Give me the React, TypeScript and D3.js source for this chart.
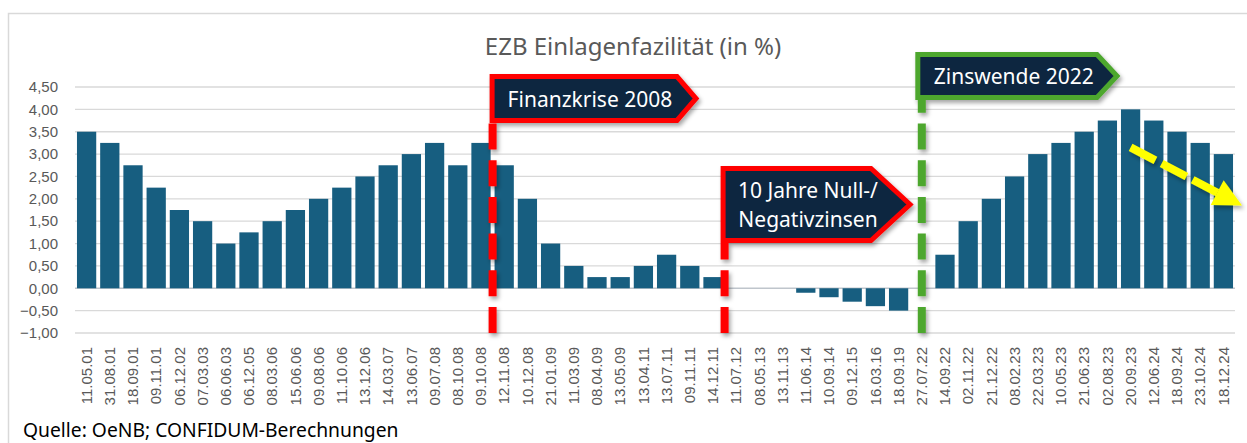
import React from 'react';
import * as d3 from 'd3';

// Leitzins-Termine (Einlagenfazilität der EZB)
const dates = [
  '11.05.01', '31.08.01', '18.09.01', '09.11.01', '06.12.02', '07.03.03', '06.06.03', '06.12.05',
  '08.03.06', '15.06.06', '09.08.06', '11.10.06', '13.12.06', '14.03.07', '13.06.07', '09.07.08',
  '08.10.08', '09.10.08', '12.11.08', '10.12.08', '21.01.09', '11.03.09', '08.04.09', '13.05.09',
  '13.04.11', '13.07.11', '09.11.11', '14.12.11', '11.07.12', '08.05.13', '13.11.13', '11.06.14',
  '10.09.14', '09.12.15', '16.03.16', '18.09.19', '27.07.22', '14.09.22', '02.11.22', '21.12.22',
  '08.02.23', '22.03.23', '10.05.23', '21.06.23', '02.08.23', '20.09.23', '12.06.24', '18.09.24',
  '23.10.24', '18.12.24'
];

const rates = [
  3.5, 3.25, 2.75, 2.25, 1.75, 1.5, 1.0, 1.25,
  1.5, 1.75, 2.0, 2.25, 2.5, 2.75, 3.0, 3.25,
  2.75, 3.25, 2.75, 2.0, 1.0, 0.5, 0.25, 0.25,
  0.5, 0.75, 0.5, 0.25, 0.0, 0.0, 0.0, -0.1,
  -0.2, -0.3, -0.4, -0.5, 0.0, 0.75, 1.5, 2.0,
  2.5, 3.0, 3.25, 3.5, 3.75, 4.0, 3.75, 3.5,
  3.25, 3.0
];

const yTicks = [-1, -0.5, 0, 0.5, 1, 1.5, 2, 2.5, 3, 3.5, 4, 4.5];

// Markierungen: Datum, an dem die Linie steht
const krise = { text: 'Finanzkrise 2008', at: '12.11.08' };
const nullzins = { lines: ['10 Jahre Null-/', 'Negativzinsen'], at: '11.07.12' };
const wende = { text: 'Zinswende 2022', at: '27.07.22' };

const W = 1247, H = 443;
const uiFont = '"Noto Sans", sans-serif';
const tickFont = '"Liberation Sans", Arial, sans-serif';

export default function App() {
  const x = d3.scaleBand().domain(dates).range([75, 1235]).paddingInner(0.17).paddingOuter(0.085);
  const y = d3.scaleLinear().domain([-1, 4.5]).range([333, 87]);
  const fmt = (v: number) => d3.format('.2f')(v).replace('.', ',');

  const gapHalf = (x.step() - x.bandwidth()) / 2;
  const edge = (d: string) => (x(d) as number) - gapHalf;
  const mid = (d: string) => (x(d) as number) + x.bandwidth() / 2;

  const xKrise = edge(krise.at);
  const xNull = edge(nullzins.at);
  const xWende = mid(wende.at);
  const yBottom = y(-1);

  const callout = (l: number, t: number, r: number, tip: number, b: number) =>
    `M${l},${t}H${r}L${tip},${(t + b) / 2}L${r},${b}H${l}Z`;

  // gelber Trendpfeil
  const a0 = [mid('20.09.23'), y(3.15)];
  const a1 = [1242, y(1.85)];
  const len = Math.hypot(a1[0] - a0[0], a1[1] - a0[1]);
  const ux = (a1[0] - a0[0]) / len, uy = (a1[1] - a0[1]) / len;
  const headLen = 28, headW = 14;
  const bx = a1[0] - ux * headLen, by = a1[1] - uy * headLen;
  const head = `M${a1[0]},${a1[1]}L${bx - uy * headW},${by + ux * headW}L${bx + uy * headW},${by - ux * headW}Z`;

  const dash = '26 10.7';

  return (
    <svg width={W} height={H} style={{ position: 'absolute', left: 0, top: 0, background: '#fff' }}>
      <defs>
        <filter id="shadow" x="-20%" y="-20%" width="140%" height="140%">
          <feDropShadow dx="2" dy="3" stdDeviation="2" floodColor="#000" floodOpacity="0.35" />
        </filter>
      </defs>

      <rect x={8.5} y={13.5} width={1400} height={600} fill="none" stroke="#d9d9d9" strokeWidth={1.5} />

      <text x={633} y={55} textAnchor="middle" fontFamily={uiFont} fontSize={24} fill="#595959">
        EZB Einlagenfazilität (in %)
      </text>

      {yTicks.map(t => (
        <g key={t}>
          <line x1={75} x2={1235} y1={y(t)} y2={y(t)} stroke={t === 0 ? '#bfc5cc' : '#d9d9d9'} strokeWidth={1.3} />
          <text x={58} y={y(t)} dy="0.35em" textAnchor="end" fontFamily={tickFont} fontSize={15} fill="#595959">
            {fmt(t)}
          </text>
        </g>
      ))}

      {dates.map((d, i) => (
        <rect key={d} x={x(d)} width={x.bandwidth()}
          y={Math.min(y(rates[i]), y(0))} height={Math.abs(y(rates[i]) - y(0))}
          fill="#175e80" />
      ))}

      {dates.map(d => (
        <text key={d} transform={`translate(${mid(d)},347) rotate(-90)`} dy="0.35em" textAnchor="end"
          fontFamily={tickFont} fontSize={15} fill="#595959">
          {d}
        </text>
      ))}

      {/* Finanzkrise */}
      <g filter="url(#shadow)">
        <line x1={xKrise} x2={xKrise} y1={yBottom} y2={123} stroke="#ff0000" strokeWidth={8} strokeDasharray={dash} />
        <path d={callout(xKrise - 0.5, 76.5, 677, 696, 120.5)} fill="#0e2841" stroke="#ff0000" strokeWidth={5} strokeLinejoin="miter" />
      </g>
      <text x={xKrise + 15} y={107} fontFamily={uiFont} fontSize={21} fill="#fff">{krise.text}</text>

      {/* Null-/Negativzinsen */}
      <g filter="url(#shadow)">
        <line x1={xNull} x2={xNull} y1={yBottom} y2={243} stroke="#ff0000" strokeWidth={8} strokeDasharray={dash} />
        <path d={callout(xNull - 1.5, 168.5, 871, 910, 240.5)} fill="#0e2841" stroke="#ff0000" strokeWidth={5} />
      </g>
      {nullzins.lines.map((l, i) => (
        <text key={l} x={808} y={198 + i * 29} textAnchor="middle" fontFamily={uiFont} fontSize={21} fill="#fff">{l}</text>
      ))}

      {/* Zinswende */}
      <g filter="url(#shadow)">
        <line x1={xWende} x2={xWende} y1={yBottom} y2={100} stroke="#4ea72e" strokeWidth={8} strokeDasharray={dash} />
        <path d={callout(xWende - 4, 54.5, 1097, 1117, 97.5)} fill="#0e2841" stroke="#4ea72e" strokeWidth={5} />
      </g>
      <text x={xWende + 12} y={84} fontFamily={uiFont} fontSize={21} fill="#fff">{wende.text}</text>

      {/* Trendpfeil */}
      <g filter="url(#shadow)">
        <line x1={a0[0]} y1={a0[1]} x2={bx + ux * 2} y2={by + uy * 2} stroke="#ffff00" strokeWidth={8} strokeDasharray="28 7" />
        <path d={head} fill="#ffff00" />
      </g>

      <text x={23} y={437} fontFamily={uiFont} fontSize={19.3} fill="#000">
        Quelle: OeNB; CONFIDUM-Berechnungen
      </text>
    </svg>
  );
}
